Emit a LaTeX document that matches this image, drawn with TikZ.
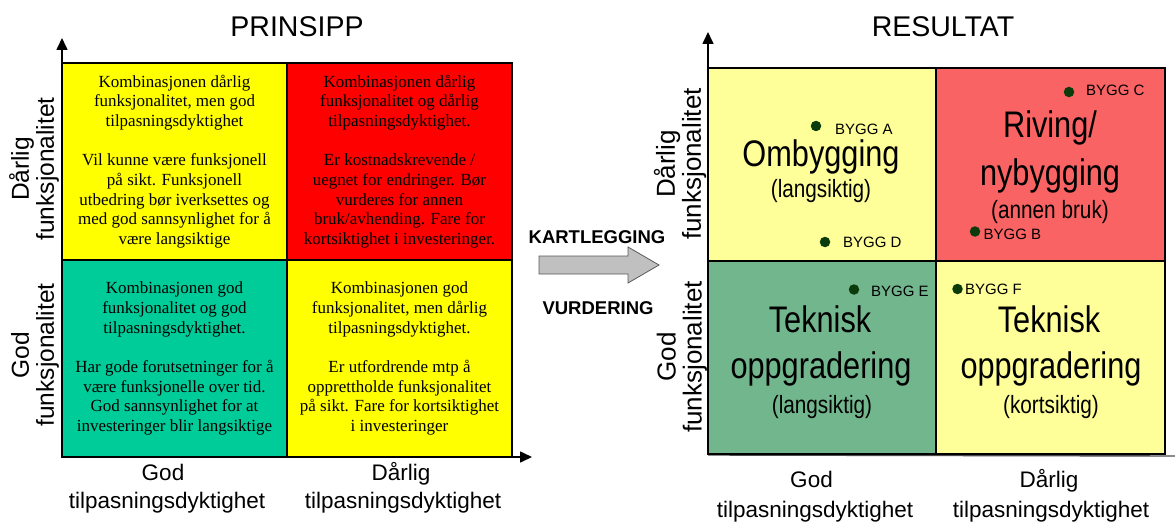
\documentclass[tikz,border=0pt]{standalone}
\usepackage{fontspec}
\setmainfont{Liberation Serif}
\newfontfamily\arial{Liberation Sans}
\newfontfamily\arialn[FakeStretch=0.83]{Liberation Sans}
\usetikzlibrary{arrows.meta}
\definecolor{cyel}{HTML}{FFFF00}
\definecolor{cred}{HTML}{FF0000}
\definecolor{cteal}{HTML}{00CC99}
\definecolor{lyel}{HTML}{FFFF99}
\definecolor{lred}{HTML}{F96363}
\definecolor{lgreen}{HTML}{72B68E}
\definecolor{dotgreen}{HTML}{0B3B0B}
\definecolor{arrowgray}{HTML}{C0C0C0}
\tikzset{
  cellbox/.style={draw=black, line width=1.3pt, inner sep=0pt},
  celltext/.style={font=\fontsize{17}{19.7}\selectfont, align=center, text=black},
  titletext/.style={font=\arial\fontsize{28.5}{32}\selectfont, anchor=base},
  axlabL/.style={font=\arial\fontsize{24.5}{25}\selectfont, align=center, rotate=90},
  axlabR/.style={font=\arial\fontsize{26}{26}\selectfont, align=center, rotate=90},
  botlab/.style={font=\arial\fontsize{22.5}{26}\selectfont, anchor=base, inner sep=0pt},
  bigline/.style={font=\arialn\fontsize{37}{40}\selectfont, anchor=base, inner sep=0pt},
  subline/.style={font=\arialn\fontsize{25}{28}\selectfont, anchor=base, inner sep=0pt},
  byggtext/.style={font=\arial\fontsize{15}{16}\selectfont, anchor=west, inner sep=0pt},
  bdot/.style={circle, fill=dotgreen, inner sep=0pt, minimum size=10.5pt},
  axisline/.style={line width=1.6pt, -{Triangle[length=12pt,width=11pt]}},
  boldlab/.style={font=\arial\bfseries\fontsize{18.5}{20}\selectfont}
}
\begin{document}
\begin{tikzpicture}[x=1pt,y=-1pt]
\useasboundingbox (0,0) rectangle (1175,524);

% ---------------- PRINSIPP ----------------
\node[titletext] (t1) at (297,37) {PRINSIPP};

\coordinate (lO) at (62,457);
\coordinate (lY) at (62,38);
\coordinate (lX) at (532,457);
\draw[axisline] (lO) -- (lY);
\draw[axisline] (lO) -- (lX);

\node[cellbox, fill=cyel, minimum width=225pt, minimum height=197pt, celltext] (p11) at (174.5,161.5)
 {Kombinasjonen dårlig\\funksjonalitet, men god\\tilpasningsdyktighet\\[19.7pt]Vil kunne være funksjonell\\på sikt. Funksjonell\\utbedring bør iverksettes og\\med god sannsynlighet for å\\være langsiktige};
\node[cellbox, fill=cred, minimum width=225pt, minimum height=197pt, celltext] (p12) at (399.5,161.5)
 {Kombinasjonen dårlig\\funksjonalitet og dårlig\\tilpasningsdyktighet.\\[19.7pt]Er kostnadskrevende /\\uegnet for endringer. Bør\\vurderes for annen\\bruk/avhending. Fare for\\kortsiktighet i investeringer.};
\node[cellbox, fill=cteal, minimum width=225pt, minimum height=197pt, celltext] (p21) at (174.5,358.5)
 {Kombinasjonen god\\funksjonalitet og god\\tilpasningsdyktighet.\\[19.7pt]Har gode forutsetninger for å\\være funksjonelle over tid.\\God sannsynlighet for at\\investeringer blir langsiktige};
\node[cellbox, fill=cyel, minimum width=225pt, minimum height=197pt, celltext] (p22) at (399.5,358.5)
 {Kombinasjonen god\\funksjonalitet, men dårlig\\tilpasningsdyktighet.\\[19.7pt]Er utfordrende mtp å\\opprettholde funksjonalitet\\på sikt. Fare for kortsiktighet\\i investeringer};

\node[axlabL] (ly1) at (34,169) {Dårlig\\funksjonalitet};
\node[axlabL] (ly2) at (35,355) {God\\funksjonalitet};

\node[botlab] (lx1a) at (163,480) {God};
\node[botlab] (lx1b) at (167,508) {tilpasningsdyktighet};
\node[botlab] (lx2a) at (401,480) {Dårlig};
\node[botlab] (lx2b) at (403,508) {tilpasningsdyktighet};

% ---------------- middle arrow ----------------
\node[boldlab] (kart) at (597,237) {KARTLEGGING};
\node[boldlab] (vurd) at (598,308) {VURDERING};
\draw[fill=arrowgray, draw=black!65, line width=0.8pt]
  (539,256) -- (628,256) -- (628,247) -- (659,265) -- (628,283) -- (628,274) -- (539,274) -- cycle;

% ---------------- RESULTAT ----------------
\node[titletext] (t2) at (943,37) {RESULTAT};

\coordinate (rO) at (708,455);
\coordinate (rY) at (708,32);
\coordinate (rX) at (1175,456);
\draw[line width=1.4pt, black!70] (rO) -- (rX);
\draw[axisline] (rO) -- (rY);

\node[cellbox, fill=lyel, minimum width=228pt, minimum height=193pt] (r11) at (822,164.5) {};
\node[cellbox, fill=lred, minimum width=229pt, minimum height=193pt] (r12) at (1050.5,164.5) {};
\node[cellbox, fill=lgreen, minimum width=228pt, minimum height=193pt] (r21) at (822,357.5) {};
\node[cellbox, fill=lyel, minimum width=229pt, minimum height=193pt] (r22) at (1050.5,357.5) {};

\node[bigline] (omb) at (821,167) {Ombygging};
\node[subline] (omb2) at (821,197) {(langsiktig)};
\node[bigline] (riv1) at (1050,138) {Riving/};
\node[bigline] (riv2) at (1050,185) {nybygging};
\node[subline] (riv3) at (1050,218) {(annen bruk)};
\node[bigline] (tek1) at (820,332) {Teknisk};
\node[bigline] (tek2) at (821,378) {oppgradering};
\node[subline] (tek3) at (822,413) {(langsiktig)};
\node[bigline] (tek4) at (1049,332) {Teknisk};
\node[bigline] (tek5) at (1051,378) {oppgradering};
\node[subline] (tek6) at (1051,413) {(kortsiktig)};

\node[bdot] (dA) at (816,126) {};
\node[byggtext] (bA) at (835,129) {BYGG A};
\node[bdot] (dD) at (825,242) {};
\node[byggtext] (bD) at (843,242) {BYGG D};
\node[bdot] (dC) at (1069,92) {};
\node[byggtext] (bC) at (1086,90.5) {BYGG C};
\node[bdot] (dB) at (975,231.5) {};
\node[byggtext] (bB) at (983.5,234) {BYGG B};
\node[bdot] (dE) at (854,289.5) {};
\node[byggtext] (bE) at (871,291) {BYGG E};
\node[bdot] (dF) at (957.5,289) {};
\node[byggtext] (bF) at (965,289.5) {BYGG F};

\node[axlabR] (ry1) at (680,164) {Dårlig\\funksjonalitet};
\node[axlabR] (ry2) at (682,357) {God\\funksjonalitet};

\node[botlab] (rx1a) at (811.5,487) {God};
\node[botlab] (rx1b) at (815,517) {tilpasningsdyktighet};
\node[botlab] (rx2a) at (1049,487) {Dårlig};
\node[botlab] (rx2b) at (1051,517) {tilpasningsdyktighet};
\end{tikzpicture}
\end{document}
